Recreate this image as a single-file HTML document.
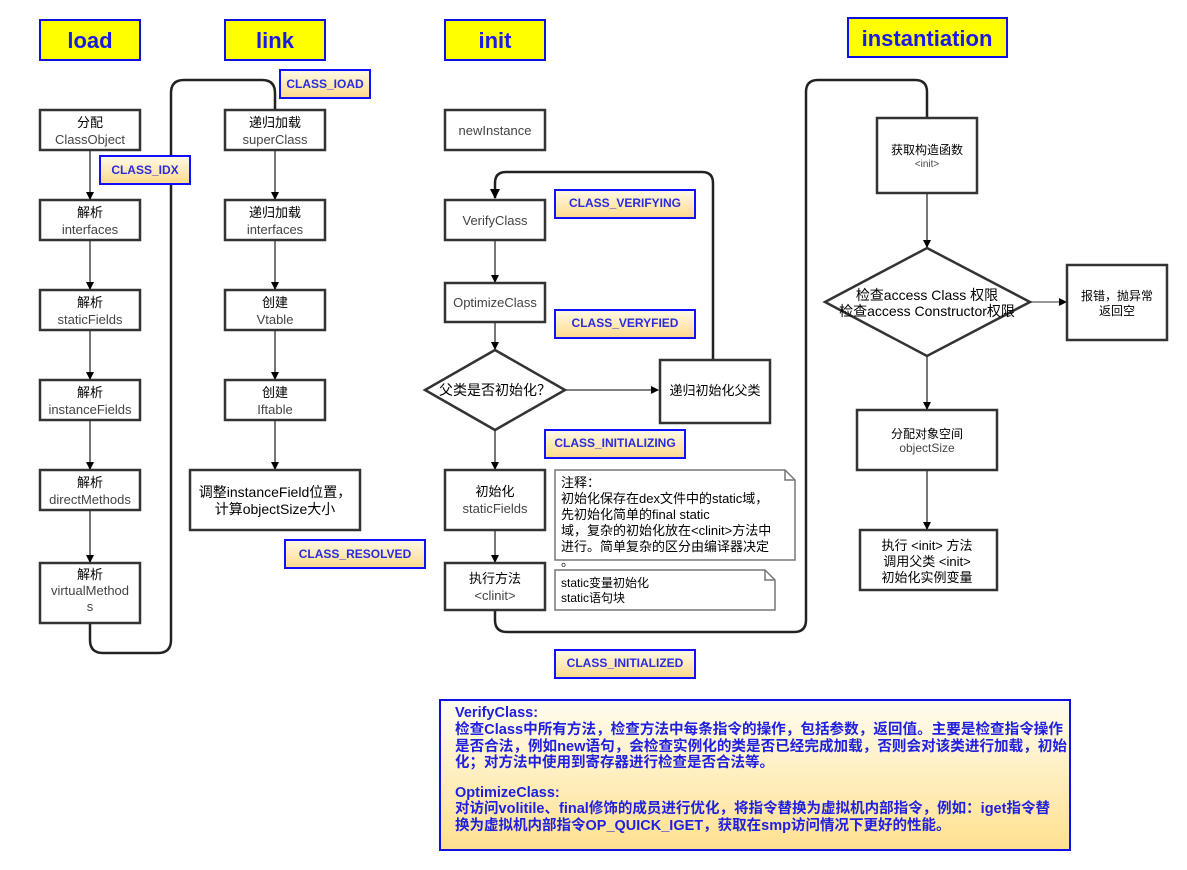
<!DOCTYPE html>
<html><head><meta charset="utf-8"><style>
html,body{margin:0;padding:0;background:#fff;}
svg{display:block;font-family:"Liberation Sans","Noto Sans CJK SC",sans-serif;}
.b{fill:#fff;stroke:#333;stroke-width:2.5}
.t{font-size:13px;fill:#000;text-anchor:middle}
.g{font-size:13px;fill:#444;text-anchor:middle}
.hd{fill:#ffff00;stroke:#1010e0;stroke-width:2}
.ht{font-size:22px;font-weight:bold;fill:#1a1ae6;text-anchor:middle}
.lb{fill:url(#yg);stroke:#1010ff;stroke-width:2}
.lt{font-size:12px;font-weight:bold;fill:#2a2ae0;text-anchor:middle}
.ln{stroke:#777;stroke-width:2;fill:none}
.lk{stroke:#222;stroke-width:2.5;fill:none}
.n{fill:#fff;stroke:#777;stroke-width:1.5}
.nt{font-size:13px;fill:#000}
.dt{font-size:14.5px;font-weight:bold;fill:#2020e0}
</style></head><body>
<svg width="1187" height="870" viewBox="0 0 1187 870">
<defs>
<linearGradient id="yg" x1="0" y1="0" x2="0" y2="1"><stop offset="0" stop-color="#fffbe8"/><stop offset="1" stop-color="#ffd98a"/></linearGradient>
<linearGradient id="yg2" x1="0" y1="0" x2="0" y2="1"><stop offset="0" stop-color="#fffdf0"/><stop offset="1" stop-color="#ffe08f"/></linearGradient>
<marker id="a" markerWidth="8" markerHeight="8" refX="7" refY="4" orient="auto" markerUnits="userSpaceOnUse"><path d="M0,0 L8,4 L0,8 Z" fill="#000"/></marker>
<marker id="ah" markerWidth="10" markerHeight="10" refX="9" refY="5" orient="auto" markerUnits="userSpaceOnUse"><path d="M0,0 L10,5 L0,10 Z" fill="#000"/></marker>
</defs>

<rect class="hd" x="40" y="20" width="100" height="40"/><text class="ht" x="90" y="48">load</text>
<rect class="hd" x="225" y="20" width="100" height="40"/><text class="ht" x="275" y="48">link</text>
<rect class="hd" x="445" y="20" width="100" height="40"/><text class="ht" x="495" y="48">init</text>
<rect class="hd" x="848" y="18" width="159" height="39"/><text class="ht" x="927" y="46">instantiation</text>

<path class="lk" d="M90,623 V640 Q90,653 103,653 H158 Q171,653 171,640 V93 Q171,80 184,80 H262 Q275,80 275,93 V110"/>
<path class="lk" d="M713,360 V183 Q713,172 702,172 H506 Q495,172 495,183 V198" marker-end="url(#ah)"/>
<path class="lk" d="M495,610 V620 Q495,632 507,632 H794 Q806,632 806,620 V92 Q806,80 818,80 H915 Q927,80 927,92 V118"/>

<g>
<line class="ln" x1="90" y1="150" x2="90" y2="199" marker-end="url(#a)"/>
<line class="ln" x1="90" y1="240" x2="90" y2="289" marker-end="url(#a)"/>
<line class="ln" x1="90" y1="330" x2="90" y2="379" marker-end="url(#a)"/>
<line class="ln" x1="90" y1="420" x2="90" y2="469" marker-end="url(#a)"/>
<line class="ln" x1="90" y1="510" x2="90" y2="562" marker-end="url(#a)"/>
<rect class="b" x="40" y="110" width="100" height="40"/><text class="t" x="90" y="127">分配</text><text class="g" x="90" y="144">ClassObject</text>
<rect class="b" x="40" y="200" width="100" height="40"/><text class="t" x="90" y="217">解析</text><text class="g" x="90" y="234">interfaces</text>
<rect class="b" x="40" y="290" width="100" height="40"/><text class="t" x="90" y="307">解析</text><text class="g" x="90" y="324">staticFields</text>
<rect class="b" x="40" y="380" width="100" height="40"/><text class="t" x="90" y="397">解析</text><text class="g" x="90" y="414">instanceFields</text>
<rect class="b" x="40" y="470" width="100" height="40"/><text class="t" x="90" y="487">解析</text><text class="g" x="90" y="504">directMethods</text>
<rect class="b" x="40" y="563" width="100" height="60"/><text class="t" x="90" y="579">解析</text><text class="g" x="90" y="595">virtualMethod</text><text class="g" x="90" y="611">s</text>
</g>

<g>
<line class="ln" x1="275" y1="150" x2="275" y2="199" marker-end="url(#a)"/>
<line class="ln" x1="275" y1="240" x2="275" y2="289" marker-end="url(#a)"/>
<line class="ln" x1="275" y1="330" x2="275" y2="379" marker-end="url(#a)"/>
<line class="ln" x1="275" y1="420" x2="275" y2="469" marker-end="url(#a)"/>
<rect class="b" x="225" y="110" width="100" height="40"/><text class="t" x="275" y="127">递归加载</text><text class="g" x="275" y="144">superClass</text>
<rect class="b" x="225" y="200" width="100" height="40"/><text class="t" x="275" y="217">递归加载</text><text class="g" x="275" y="234">interfaces</text>
<rect class="b" x="225" y="290" width="100" height="40"/><text class="t" x="275" y="307">创建</text><text class="g" x="275" y="324">Vtable</text>
<rect class="b" x="225" y="380" width="100" height="40"/><text class="t" x="275" y="397">创建</text><text class="g" x="275" y="414">Iftable</text>
<rect class="b" x="190" y="470" width="170" height="60"/><text class="t" x="275" y="497" style="font-size:14px">调整instanceField位置，</text><text class="t" x="275" y="514" style="font-size:14px">计算objectSize大小</text>
</g>

<g>
<line class="ln" x1="495" y1="240" x2="495" y2="282" marker-end="url(#a)"/>
<line class="ln" x1="495" y1="322" x2="495" y2="349" marker-end="url(#a)"/>
<line class="ln" x1="495" y1="430" x2="495" y2="469" marker-end="url(#a)"/>
<line class="ln" x1="495" y1="530" x2="495" y2="562" marker-end="url(#a)"/>
<line x1="565" y1="390" x2="658" y2="390" stroke="#555" stroke-width="1.5" marker-end="url(#a)"/>
<rect class="b" x="445" y="110" width="100" height="40" stroke-width="1.5"/><text class="g" x="495" y="135">newInstance</text>
<rect class="b" x="445" y="200" width="100" height="40" stroke-width="2"/><text class="g" x="495" y="225">VerifyClass</text>
<rect class="b" x="445" y="283" width="100" height="39" stroke="#000" stroke-width="2.5"/><text class="g" x="495" y="307">OptimizeClass</text>
<polygon class="b" points="495,350 565,390 495,430 425,390" stroke-width="2"/><text class="t" x="495" y="395" style="font-size:14px">父类是否初始化？</text>
<rect class="b" x="660" y="360" width="110" height="63" stroke-width="2"/><text class="t" x="715" y="395">递归初始化父类</text>
<rect class="b" x="445" y="470" width="100" height="60"/><text class="t" x="495" y="496">初始化</text><text class="g" x="495" y="513">staticFields</text>
<rect class="b" x="445" y="563" width="100" height="47"/><text class="t" x="495" y="583">执行方法</text><text class="g" x="495" y="600">&lt;clinit&gt;</text>
<path class="n" d="M555,470 H785 L795,480 V560 H555 Z M785,470 V480 H795"/>
<text class="nt" x="561" y="487">注释：</text>
<text class="nt" x="561" y="503">初始化保存在dex文件中的static域，</text>
<text class="nt" x="561" y="519">先初始化简单的final static</text>
<text class="nt" x="561" y="535">域，复杂的初始化放在&lt;clinit&gt;方法中</text>
<text class="nt" x="561" y="551">进行。简单复杂的区分由编译器决定</text>
<text class="nt" x="561" y="566">。</text>
<path class="n" d="M555,570 H765 L775,580 V610 H555 Z M765,570 V580 H775"/>
<text class="nt" x="561" y="587" style="font-size:12px">static变量初始化</text>
<text class="nt" x="561" y="602" style="font-size:12px">static语句块</text>
</g>

<g>
<line class="ln" x1="927" y1="193" x2="927" y2="247" marker-end="url(#a)"/>
<line class="ln" x1="927" y1="357" x2="927" y2="409" marker-end="url(#a)"/>
<line class="ln" x1="927" y1="470" x2="927" y2="529" marker-end="url(#a)"/>
<line x1="1030" y1="302" x2="1066" y2="302" stroke="#777" stroke-width="1.5" marker-end="url(#a)"/>
<rect class="b" x="877" y="118" width="100" height="75"/><text class="t" x="927" y="154" style="font-size:12px">获取构造函数</text><text class="g" x="927" y="167" style="font-size:10px">&lt;init&gt;</text>
<polygon class="b" points="927,248 1030,302 927,356 825,302"/><text class="t" x="927" y="300" style="font-size:14px">检查access Class 权限</text><text class="t" x="927" y="316" style="font-size:14px">检查access Constructor权限</text>
<rect class="b" x="1067" y="265" width="100" height="75"/><text class="t" x="1117" y="300" style="font-size:12px">报错，抛异常</text><text class="t" x="1117" y="315" style="font-size:12px">返回空</text>
<rect class="b" x="857" y="410" width="140" height="60"/><text class="t" x="927" y="438" style="font-size:12px">分配对象空间</text><text class="g" x="927" y="452" style="font-size:12px">objectSize</text>
<rect class="b" x="860" y="530" width="137" height="60"/><text class="t" x="927" y="550">执行 &lt;init&gt; 方法</text><text class="t" x="927" y="566">调用父类 &lt;init&gt;</text><text class="t" x="927" y="582">初始化实例变量</text>
</g>

<rect class="lb" x="280" y="70" width="90" height="28"/><text class="lt" x="325" y="88">CLASS_IOAD</text>
<rect class="lb" x="100" y="156" width="90" height="28"/><text class="lt" x="145" y="174">CLASS_IDX</text>
<rect class="lb" x="285" y="540" width="140" height="28"/><text class="lt" x="355" y="558">CLASS_RESOLVED</text>
<rect class="lb" x="555" y="190" width="140" height="28"/><text class="lt" x="625" y="207">CLASS_VERIFYING</text>
<rect class="lb" x="555" y="310" width="140" height="28"/><text class="lt" x="625" y="327">CLASS_VERYFIED</text>
<rect class="lb" x="545" y="430" width="140" height="28"/><text class="lt" x="615" y="447">CLASS_INITIALIZING</text>
<rect class="lb" x="555" y="650" width="140" height="28"/><text class="lt" x="625" y="667">CLASS_INITIALIZED</text>

<rect x="440" y="700" width="630" height="150" fill="url(#yg2)" stroke="#1010e0" stroke-width="2"/>
<text class="dt" x="455" y="717">VerifyClass:</text>
<text class="dt" x="455" y="734" textLength="608" lengthAdjust="spacingAndGlyphs">检查Class中所有方法，检查方法中每条指令的操作，包括参数，返回值。主要是检查指令操作</text>
<text class="dt" x="455" y="751" textLength="612" lengthAdjust="spacingAndGlyphs">是否合法，例如new语句，会检查实例化的类是否已经完成加载，否则会对该类进行加载，初始</text>
<text class="dt" x="455" y="767">化；对方法中使用到寄存器进行检查是否合法等。</text>
<text class="dt" x="455" y="797">OptimizeClass:</text>
<text class="dt" x="455" y="813" textLength="595" lengthAdjust="spacingAndGlyphs">对访问volitile、final修饰的成员进行优化，将指令替换为虚拟机内部指令，例如：iget指令替</text>
<text class="dt" x="455" y="830">换为虚拟机内部指令OP_QUICK_IGET，获取在smp访问情况下更好的性能。</text>
</svg>
</body></html>
